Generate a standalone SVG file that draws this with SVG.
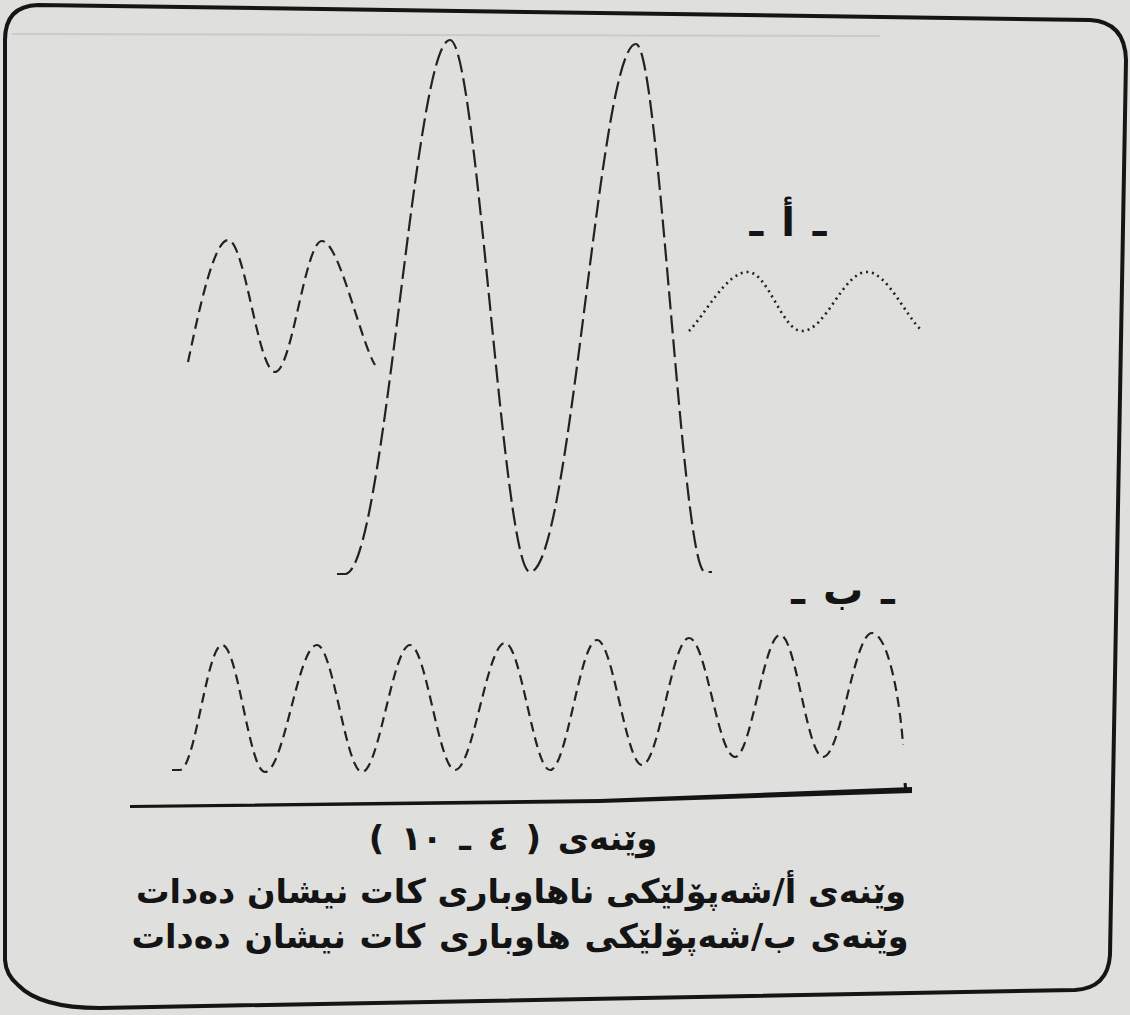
<svg xmlns="http://www.w3.org/2000/svg" width="1130" height="1015" viewBox="0 0 1130 1015">
<defs>
<style>
.bg{fill:#dfdfdd}
.frame{fill:none;stroke:#151515;stroke-width:4;stroke-linejoin:round}
.wave{fill:none;stroke:#222;stroke-width:2.2;stroke-linecap:butt}
.big{stroke-dasharray:18 6}
.small{stroke-dasharray:11 6}
.dots{stroke-dasharray:2 4;stroke-width:2.6}
.wb{stroke-dasharray:10 6}
.txt{font-family:"DejaVu Sans",sans-serif;font-weight:bold;fill:#141414;direction:rtl}
</style>
</defs>
<rect class="bg" x="0" y="0" width="1130" height="1015"/>
<line x1="12" y1="34" x2="880" y2="36" stroke="#cbcbc9" stroke-width="2"/>
<g id="frame">
<path class="frame" d="M5,960 L5,40 Q5,6 38,5 L1090,20 Q1125,22 1126,60 L1110,955 Q1108,988 1075,990 L100,1008 Q40,1008 18,985 Q6,975 5,960 Z"/>
</g>
<g id="wave-a">
<path class="wave small" d="M188,362 C199,310 214,240 228,240 C245,240 258,372 275,372 C292,372 305,241 322,241 C339,241 360,340 375,365"/>
<path class="wave big" d="M337,574 L345,574 C385,574 414,40 450,40 C477,40 503,572 530,572 C571,572 599,44 636,44 C659,44 682,572 705,572 L712,572"/>
<path class="wave dots" d="M689,331 C705,315 726,272 748,272 C768,272 782,331 802,331 C826,331 843,272 867,272 C887,272 905,315 922,331"/>
</g>
<g id="label-a">
<text class="txt" x="788" y="236" font-size="40" word-spacing="4" text-anchor="middle">ـ أ ـ</text>
</g>
<g id="wave-b">
<path class="wave wb" d="M172,770 L180,770 C195,770 207,645 222,645 C238,645 249,772 265,772 C284,772 298,645 317,645 C333,645 346,772 362,772 C379,772 393,645 410,645 C426,645 439,770 455,770 C473,770 487,643 505,643 C521,643 534,770 550,770 C567,770 580,640 597,640 C613,640 626,765 642,765 C659,765 672,638 689,638 C706,638 718,757 735,757 C751,757 764,635 780,635 C796,635 807,757 823,757 C841,757 854,633 872,633 C888,633 900,700 903,745"/>
</g>
<g id="label-b">
<text class="txt" x="843" y="604" font-size="40" word-spacing="4" text-anchor="middle">ـ ب ـ</text>
</g>
<g id="baseline">
<path d="M130,805 L600,799 L912,787 L912,793 L600,803 L130,808 Z" fill="#141414"/>
<path d="M905,783 L906,792" stroke="#141414" stroke-width="3"/>
</g>
<g id="caption">
<text class="txt" x="513" y="850" font-size="34" word-spacing="5" text-anchor="middle">وێنەی ( ٤ ـ ١٠ )</text>
<text class="txt" x="521" y="903" font-size="33.5" text-anchor="middle">وێنەی أ/شەپۆلێکی ناهاوباری کات نیشان دەدات</text>
<text class="txt" x="520" y="948" font-size="33.5" word-spacing="2" text-anchor="middle">وێنەی ب/شەپۆلێکی هاوباری کات نیشان دەدات</text>
</g>
</svg>
